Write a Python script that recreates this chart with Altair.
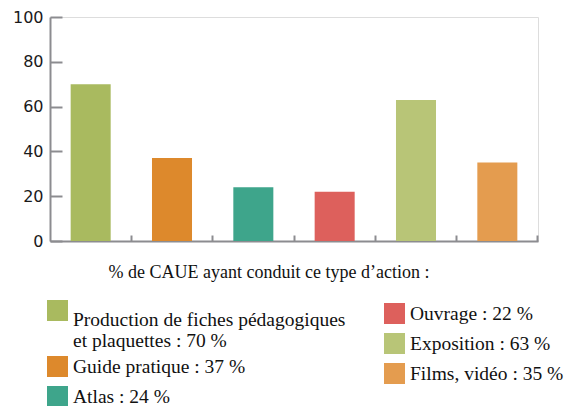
import altair as alt
import pandas as pd

categories = ["Production", "Guide", "Atlas", "Ouvrage", "Exposition", "Films"]
values = [70, 37, 24, 22, 63, 35]
labels = [
    "Production de fiches pédagogiques|et plaquettes : 70 %",
    " Guide pratique : 37 %",
    "Atlas : 24 %",
    "Ouvrage : 22 %",
    "Exposition : 63 %",
    "Films, vidéo : 35 %",
]
colors = ["#a9ba5f", "#dd892c", "#3ea58b", "#dd605c", "#b8c577", "#e49c4f"]
groups = ["A", "B", "B", "C", "C", "C"]
y_ticks = [0, 20, 40, 60, 80, 100]

df = pd.DataFrame({"cat": categories, "value": values, "label": labels,
                   "color": colors, "group": groups})

GRAY = "#8c8c90"
SERIF = "Liberation Serif"

xscale = alt.Scale(domain=categories, paddingInner=0, paddingOuter=0)
yscale = alt.Scale(domain=[0, 100], nice=False, zero=True)


def layer(group, x_axis, y_axis, legend):
    sub = df[df.group == group]
    return alt.Chart(df).transform_filter(
        alt.datum.group == group
    ).mark_bar(width=alt.RelativeBandSize(0.492)).encode(
        x=alt.X("cat:N", scale=xscale, axis=x_axis, sort=categories),
        y=alt.Y("value:Q", scale=yscale, axis=y_axis),
        color=alt.Color("label:N",
                        scale=alt.Scale(domain=list(sub.label), range=list(sub.color)),
                        legend=legend),
    )


legend_common = dict(
    orient="none", title=None, symbolType="square", symbolSize=441,
    symbolStrokeWidth=0, labelFont=SERIF, labelFontSize=19.5,
    labelColor="#111111", labelLimit=400, labelOffset=5, padding=0,
    rowPadding=9, direction="vertical",
    labelExpr="split(datum.label, '|')",
)

axis_x_domain = alt.Axis(domain=True, domainColor=GRAY, domainWidth=2,
                         ticks=False, tickSize=0, labels=False, grid=False,
                         orient="bottom",
                         title="% de CAUE ayant conduit ce type d’action :",
                         titleFont=SERIF, titleFontSize=18, titleFontWeight="normal",
                         titleColor="#111111", titleAnchor="start", titleAlign="left",
                         titleBaseline="alphabetic", titleX=58, titleY=36)
axis_y_labels = alt.Axis(domain=True, domainColor=GRAY, domainWidth=2,
                         ticks=False, tickSize=0, labelPadding=7, grid=False,
                         orient="left", values=y_ticks, title=None,
                         labelFont="DejaVu Sans", labelFontSize=16,
                         labelColor="#1a1a1a")
axis_x_ticks = alt.Axis(domain=False, ticks=True, tickSize=6, tickWidth=2,
                        tickColor=GRAY, bandPosition=1, labels=False, grid=False,
                        orient="bottom", offset=-6, title=None)
axis_y_ticks = alt.Axis(domain=False, ticks=True, tickSize=12, tickWidth=2,
                        tickColor=GRAY, labels=False, grid=False, orient="left",
                        offset=-12, values=y_ticks, title=None)

la = layer("A", axis_x_domain, axis_y_labels,
           alt.Legend(legendX=-3, legendY=283, labelBaseline="top",
                      symbolFillColor="#c3c56a", **legend_common))
lb = layer("B", axis_x_ticks, axis_y_ticks,
           alt.Legend(legendX=-3, legendY=339, labelBaseline="middle", **legend_common))
lc = layer("C", None, None,
           alt.Legend(legendX=334, legendY=286, labelBaseline="middle", **legend_common))

chart = alt.layer(la, lb, lc).resolve_scale(color="independent").resolve_axis(
    x="independent", y="independent"
).properties(
    width=488, height=224,
    autosize=alt.AutoSizeParams(type="none"),
    padding={"left": 42, "top": 9, "right": 28, "bottom": 165},
).configure_view(stroke=None).configure(background="white")

chart.save("out.html", embed_options={"renderer": "svg", "actions": False})
